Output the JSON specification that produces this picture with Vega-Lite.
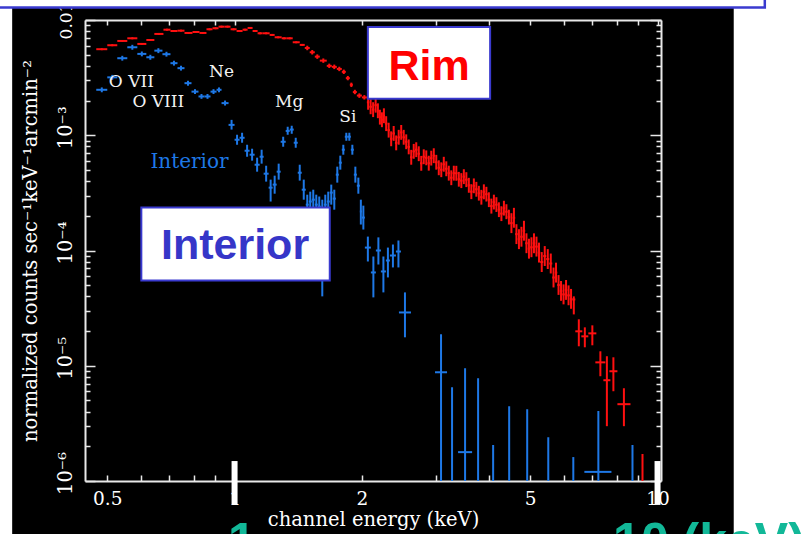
{
  "$schema": "https://vega.github.io/schema/vega-lite/v6.json",
  "width": 576,
  "height": 461,
  "autosize": "none",
  "padding": {"left": 85, "top": 20, "right": 141, "bottom": 53},
  "background": "#000000",
  "config": {"view": {"stroke": null}},
  "datasets": {
    "spectra": [
      {"series": "Rim", "e0": 0.4710, "e": 0.4854, "e1": 0.5001, "f": 5.58e-3, "f0": 5.47e-3, "f1": 5.69e-3},
      {"series": "Rim", "e0": 0.5001, "e": 0.5139, "e1": 0.5281, "f": 6.04e-3, "f0": 5.92e-3, "f1": 6.16e-3},
      {"series": "Rim", "e0": 0.5281, "e": 0.5427, "e1": 0.5577, "f": 6.58e-3, "f0": 6.45e-3, "f1": 6.71e-3},
      {"series": "Rim", "e0": 0.5577, "e": 0.5732, "e1": 0.5890, "f": 6.94e-3, "f0": 6.80e-3, "f1": 7.08e-3},
      {"series": "Rim", "e0": 0.5890, "e": 0.6036, "e1": 0.6186, "f": 6.20e-3, "f0": 6.08e-3, "f1": 6.32e-3},
      {"series": "Rim", "e0": 0.6186, "e": 0.6322, "e1": 0.6462, "f": 6.71e-3, "f0": 6.58e-3, "f1": 6.84e-3},
      {"series": "Rim", "e0": 0.6462, "e": 0.6623, "e1": 0.6790, "f": 7.57e-3, "f0": 7.42e-3, "f1": 7.72e-3},
      {"series": "Rim", "e0": 0.6790, "e": 0.6921, "e1": 0.7054, "f": 8.24e-3, "f0": 8.08e-3, "f1": 8.40e-3},
      {"series": "Rim", "e0": 0.7054, "e": 0.7190, "e1": 0.7329, "f": 8.03e-3, "f0": 7.87e-3, "f1": 8.19e-3},
      {"series": "Rim", "e0": 0.7329, "e": 0.7470, "e1": 0.7614, "f": 8.08e-3, "f0": 7.92e-3, "f1": 8.24e-3},
      {"series": "Rim", "e0": 0.7614, "e": 0.7782, "e1": 0.7953, "f": 7.72e-3, "f0": 7.57e-3, "f1": 7.87e-3},
      {"series": "Rim", "e0": 0.7953, "e": 0.8106, "e1": 0.8262, "f": 7.87e-3, "f0": 7.71e-3, "f1": 8.03e-3},
      {"series": "Rim", "e0": 0.8262, "e": 0.8421, "e1": 0.8582, "f": 7.72e-3, "f0": 7.57e-3, "f1": 7.87e-3},
      {"series": "Rim", "e0": 0.8582, "e": 0.8725, "e1": 0.8869, "f": 8.31e-3, "f0": 8.14e-3, "f1": 8.48e-3},
      {"series": "Rim", "e0": 0.8869, "e": 0.9016, "e1": 0.9164, "f": 8.48e-3, "f0": 8.31e-3, "f1": 8.65e-3},
      {"series": "Rim", "e0": 0.9164, "e": 0.9315, "e1": 0.9469, "f": 8.75e-3, "f0": 8.58e-3, "f1": 8.93e-3},
      {"series": "Rim", "e0": 0.9469, "e": 0.9625, "e1": 0.9784, "f": 8.75e-3, "f0": 8.58e-3, "f1": 8.93e-3},
      {"series": "Rim", "e0": 0.9784, "e": 0.9946, "e1": 1.0110, "f": 8.31e-3, "f0": 8.14e-3, "f1": 8.48e-3},
      {"series": "Rim", "e0": 1.0110, "e": 1.0277, "e1": 1.0446, "f": 8.03e-3, "f0": 7.87e-3, "f1": 8.19e-3},
      {"series": "Rim", "e0": 1.0446, "e": 1.0590, "e1": 1.0735, "f": 8.24e-3, "f0": 8.08e-3, "f1": 8.40e-3},
      {"series": "Rim", "e0": 1.0735, "e": 1.0882, "e1": 1.1031, "f": 8.53e-3, "f0": 8.36e-3, "f1": 8.70e-3},
      {"series": "Rim", "e0": 1.1031, "e": 1.1182, "e1": 1.1336, "f": 8.03e-3, "f0": 7.87e-3, "f1": 8.19e-3},
      {"series": "Rim", "e0": 1.1336, "e": 1.1494, "e1": 1.1652, "f": 7.67e-3, "f0": 7.52e-3, "f1": 7.82e-3},
      {"series": "Rim", "e0": 1.1652, "e": 1.1876, "e1": 1.2104, "f": 7.67e-3, "f0": 7.52e-3, "f1": 7.82e-3},
      {"series": "Rim", "e0": 1.2104, "e": 1.2271, "e1": 1.2439, "f": 7.42e-3, "f0": 7.27e-3, "f1": 7.57e-3},
      {"series": "Rim", "e0": 1.2439, "e": 1.2679, "e1": 1.2923, "f": 7.08e-3, "f0": 6.94e-3, "f1": 7.22e-3},
      {"series": "Rim", "e0": 1.2923, "e": 1.3101, "e1": 1.3281, "f": 6.94e-3, "f0": 6.80e-3, "f1": 7.08e-3},
      {"series": "Rim", "e0": 1.3281, "e": 1.3501, "e1": 1.3724, "f": 6.94e-3, "f0": 6.80e-3, "f1": 7.08e-3},
      {"series": "Rim", "e0": 1.3724, "e": 1.3989, "e1": 1.4259, "f": 6.41e-3, "f0": 6.28e-3, "f1": 6.54e-3},
      {"series": "Rim", "e0": 1.4259, "e": 1.4455, "e1": 1.4654, "f": 6.08e-3, "f0": 5.96e-3, "f1": 6.20e-3},
      {"series": "Rim", "e0": 1.4654, "e": 1.4855, "e1": 1.5056, "f": 5.72e-3, "f0": 5.47e-3, "f1": 5.98e-3},
      {"series": "Rim", "e0": 1.5056, "e": 1.5262, "e1": 1.5476, "f": 5.25e-3, "f0": 5.02e-3, "f1": 5.49e-3},
      {"series": "Rim", "e0": 1.5476, "e": 1.5688, "e1": 1.5904, "f": 4.81e-3, "f0": 4.60e-3, "f1": 5.03e-3},
      {"series": "Rim", "e0": 1.5904, "e": 1.6211, "e1": 1.6518, "f": 4.44e-3, "f0": 4.25e-3, "f1": 4.64e-3},
      {"series": "Rim", "e0": 1.6518, "e": 1.6745, "e1": 1.6976, "f": 4.00e-3, "f0": 3.83e-3, "f1": 4.18e-3},
      {"series": "Rim", "e0": 1.6976, "e": 1.7209, "e1": 1.7446, "f": 3.92e-3, "f0": 3.75e-3, "f1": 4.10e-3},
      {"series": "Rim", "e0": 1.7446, "e": 1.7685, "e1": 1.7928, "f": 3.76e-3, "f0": 3.60e-3, "f1": 3.93e-3},
      {"series": "Rim", "e0": 1.7928, "e": 1.8125, "e1": 1.8324, "f": 3.55e-3, "f0": 3.40e-3, "f1": 3.71e-3},
      {"series": "Rim", "e0": 1.8324, "e": 1.8525, "e1": 1.8728, "f": 3.13e-3, "f0": 3.00e-3, "f1": 3.27e-3},
      {"series": "Rim", "e0": 1.8728, "e": 1.8883, "e1": 1.9038, "f": 2.74e-3, "f0": 2.62e-3, "f1": 2.86e-3},
      {"series": "Rim", "e0": 1.9038, "e": 1.9247, "e1": 1.9458, "f": 2.37e-3, "f0": 2.27e-3, "f1": 2.48e-3},
      {"series": "Rim", "e0": 1.9458, "e": 1.9725, "e1": 1.9996, "f": 2.21e-3, "f0": 2.11e-3, "f1": 2.31e-3},
      {"series": "Rim", "e0": 1.9996, "e": 2.0270, "e1": 2.0549, "f": 2.13e-3, "f0": 2.04e-3, "f1": 2.23e-3},
      {"series": "Rim", "e0": 2.0549, "e": 2.0690, "e1": 2.0831, "f": 1.932e-3, "f0": 1.665e-3, "f1": 2.241e-3},
      {"series": "Rim", "e0": 2.0831, "e": 2.0974, "e1": 2.1117, "f": 1.766e-3, "f0": 1.522e-3, "f1": 2.049e-3},
      {"series": "Rim", "e0": 2.1117, "e": 2.1262, "e1": 2.1407, "f": 1.668e-3, "f0": 1.438e-3, "f1": 1.935e-3},
      {"series": "Rim", "e0": 2.1407, "e": 2.1554, "e1": 2.1701, "f": 1.823e-3, "f0": 1.571e-3, "f1": 2.115e-3},
      {"series": "Rim", "e0": 2.1701, "e": 2.1820, "e1": 2.1939, "f": 1.631e-3, "f0": 1.406e-3, "f1": 1.892e-3},
      {"series": "Rim", "e0": 2.1939, "e": 2.2060, "e1": 2.2180, "f": 1.435e-3, "f0": 1.237e-3, "f1": 1.665e-3},
      {"series": "Rim", "e0": 2.2180, "e": 2.2302, "e1": 2.2423, "f": 1.363e-3, "f0": 1.175e-3, "f1": 1.581e-3},
      {"series": "Rim", "e0": 2.2423, "e": 2.2546, "e1": 2.2669, "f": 1.477e-3, "f0": 1.273e-3, "f1": 1.713e-3},
      {"series": "Rim", "e0": 2.2669, "e": 2.2825, "e1": 2.2980, "f": 1.261e-3, "f0": 1.087e-3, "f1": 1.463e-3},
      {"series": "Rim", "e0": 2.2980, "e": 2.3138, "e1": 2.3296, "f": 1.107e-3, "f0": 9.54e-4, "f1": 1.284e-3},
      {"series": "Rim", "e0": 2.3296, "e": 2.3456, "e1": 2.3616, "f": 9.32e-4, "f0": 8.03e-4, "f1": 1.081e-3},
      {"series": "Rim", "e0": 2.3616, "e": 2.3778, "e1": 2.3940, "f": 1.037e-3, "f0": 8.94e-4, "f1": 1.203e-3},
      {"series": "Rim", "e0": 2.3940, "e": 2.4105, "e1": 2.4269, "f": 8.59e-4, "f0": 7.40e-4, "f1": 9.96e-4},
      {"series": "Rim", "e0": 2.4269, "e": 2.4437, "e1": 2.4604, "f": 9.60e-4, "f0": 8.28e-4, "f1": 1.114e-3},
      {"series": "Rim", "e0": 2.4604, "e": 2.4773, "e1": 2.4941, "f": 1.059e-3, "f0": 9.13e-4, "f1": 1.228e-3},
      {"series": "Rim", "e0": 2.4941, "e": 2.5113, "e1": 2.5284, "f": 9.60e-4, "f0": 8.28e-4, "f1": 1.114e-3},
      {"series": "Rim", "e0": 2.5284, "e": 2.5458, "e1": 2.5631, "f": 8.78e-4, "f0": 7.57e-4, "f1": 1.018e-3},
      {"series": "Rim", "e0": 2.5631, "e": 2.5807, "e1": 2.5983, "f": 7.92e-4, "f0": 6.83e-4, "f1": 9.19e-4},
      {"series": "Rim", "e0": 2.5983, "e": 2.6162, "e1": 2.6340, "f": 6.44e-4, "f0": 5.55e-4, "f1": 7.47e-4},
      {"series": "Rim", "e0": 2.6340, "e": 2.6521, "e1": 2.6702, "f": 7.25e-4, "f0": 6.25e-4, "f1": 8.41e-4},
      {"series": "Rim", "e0": 2.6702, "e": 2.6886, "e1": 2.7069, "f": 7.49e-4, "f0": 6.46e-4, "f1": 8.69e-4},
      {"series": "Rim", "e0": 2.7069, "e": 2.7255, "e1": 2.7440, "f": 6.91e-4, "f0": 5.96e-4, "f1": 8.02e-4},
      {"series": "Rim", "e0": 2.7440, "e": 2.7629, "e1": 2.7817, "f": 5.71e-4, "f0": 4.92e-4, "f1": 6.62e-4},
      {"series": "Rim", "e0": 2.7817, "e": 2.8008, "e1": 2.8199, "f": 6.51e-4, "f0": 5.61e-4, "f1": 7.55e-4},
      {"series": "Rim", "e0": 2.8199, "e": 2.8393, "e1": 2.8586, "f": 6.37e-4, "f0": 5.49e-4, "f1": 7.39e-4},
      {"series": "Rim", "e0": 2.8586, "e": 2.8782, "e1": 2.8978, "f": 5.72e-4, "f0": 4.93e-4, "f1": 6.64e-4},
      {"series": "Rim", "e0": 2.8978, "e": 2.9177, "e1": 2.9376, "f": 6.33e-4, "f0": 5.46e-4, "f1": 7.34e-4},
      {"series": "Rim", "e0": 2.9376, "e": 2.9578, "e1": 2.9779, "f": 6.65e-4, "f0": 5.73e-4, "f1": 7.71e-4},
      {"series": "Rim", "e0": 2.9779, "e": 2.9984, "e1": 3.0188, "f": 5.83e-4, "f0": 5.03e-4, "f1": 6.76e-4},
      {"series": "Rim", "e0": 3.0188, "e": 3.0395, "e1": 3.0602, "f": 5.22e-4, "f0": 4.50e-4, "f1": 6.06e-4},
      {"series": "Rim", "e0": 3.0602, "e": 3.0812, "e1": 3.1022, "f": 5.02e-4, "f0": 4.33e-4, "f1": 5.82e-4},
      {"series": "Rim", "e0": 3.1022, "e": 3.1235, "e1": 3.1448, "f": 5.60e-4, "f0": 4.83e-4, "f1": 6.50e-4},
      {"series": "Rim", "e0": 3.1448, "e": 3.1664, "e1": 3.1880, "f": 5.12e-4, "f0": 4.41e-4, "f1": 5.94e-4},
      {"series": "Rim", "e0": 3.1880, "e": 3.2099, "e1": 3.2318, "f": 4.69e-4, "f0": 4.04e-4, "f1": 5.44e-4},
      {"series": "Rim", "e0": 3.2318, "e": 3.2540, "e1": 3.2762, "f": 4.28e-4, "f0": 3.69e-4, "f1": 4.96e-4},
      {"series": "Rim", "e0": 3.2762, "e": 3.2987, "e1": 3.3212, "f": 4.69e-4, "f0": 4.04e-4, "f1": 5.44e-4},
      {"series": "Rim", "e0": 3.3212, "e": 3.3440, "e1": 3.3668, "f": 4.68e-4, "f0": 4.03e-4, "f1": 5.43e-4},
      {"series": "Rim", "e0": 3.3668, "e": 3.3899, "e1": 3.4130, "f": 4.15e-4, "f0": 3.58e-4, "f1": 4.81e-4},
      {"series": "Rim", "e0": 3.4130, "e": 3.4364, "e1": 3.4598, "f": 4.04e-4, "f0": 3.48e-4, "f1": 4.69e-4},
      {"series": "Rim", "e0": 3.4598, "e": 3.4836, "e1": 3.5073, "f": 4.37e-4, "f0": 3.77e-4, "f1": 5.07e-4},
      {"series": "Rim", "e0": 3.5073, "e": 3.5314, "e1": 3.5555, "f": 4.12e-4, "f0": 3.55e-4, "f1": 4.78e-4},
      {"series": "Rim", "e0": 3.5555, "e": 3.5799, "e1": 3.6043, "f": 3.68e-4, "f0": 3.17e-4, "f1": 4.27e-4},
      {"series": "Rim", "e0": 3.6043, "e": 3.6290, "e1": 3.6538, "f": 3.24e-4, "f0": 2.79e-4, "f1": 3.76e-4},
      {"series": "Rim", "e0": 3.6538, "e": 3.6789, "e1": 3.7039, "f": 3.64e-4, "f0": 3.14e-4, "f1": 4.22e-4},
      {"series": "Rim", "e0": 3.7039, "e": 3.7293, "e1": 3.7548, "f": 3.40e-4, "f0": 2.93e-4, "f1": 3.94e-4},
      {"series": "Rim", "e0": 3.7548, "e": 3.7805, "e1": 3.8063, "f": 3.14e-4, "f0": 2.71e-4, "f1": 3.64e-4},
      {"series": "Rim", "e0": 3.8063, "e": 3.8325, "e1": 3.8586, "f": 2.90e-4, "f0": 2.50e-4, "f1": 3.36e-4},
      {"series": "Rim", "e0": 3.8586, "e": 3.8851, "e1": 3.9116, "f": 3.23e-4, "f0": 2.78e-4, "f1": 3.75e-4},
      {"series": "Rim", "e0": 3.9116, "e": 3.9385, "e1": 3.9653, "f": 3.08e-4, "f0": 2.66e-4, "f1": 3.57e-4},
      {"series": "Rim", "e0": 3.9653, "e": 3.9925, "e1": 4.0197, "f": 2.76e-4, "f0": 2.38e-4, "f1": 3.20e-4},
      {"series": "Rim", "e0": 4.0197, "e": 4.0473, "e1": 4.0749, "f": 2.43e-4, "f0": 2.09e-4, "f1": 2.82e-4},
      {"series": "Rim", "e0": 4.0749, "e": 4.1029, "e1": 4.1309, "f": 2.63e-4, "f0": 2.27e-4, "f1": 3.05e-4},
      {"series": "Rim", "e0": 4.1309, "e": 4.1593, "e1": 4.1876, "f": 2.50e-4, "f0": 2.16e-4, "f1": 2.90e-4},
      {"series": "Rim", "e0": 4.1876, "e": 4.2164, "e1": 4.2451, "f": 2.26e-4, "f0": 1.95e-4, "f1": 2.62e-4},
      {"series": "Rim", "e0": 4.2451, "e": 4.2743, "e1": 4.3034, "f": 2.09e-4, "f0": 1.80e-4, "f1": 2.42e-4},
      {"series": "Rim", "e0": 4.3034, "e": 4.3330, "e1": 4.3625, "f": 2.33e-4, "f0": 2.01e-4, "f1": 2.70e-4},
      {"series": "Rim", "e0": 4.3625, "e": 4.3924, "e1": 4.4223, "f": 2.17e-4, "f0": 1.87e-4, "f1": 2.52e-4},
      {"series": "Rim", "e0": 4.4223, "e": 4.4527, "e1": 4.4831, "f": 1.95e-4, "f0": 1.68e-4, "f1": 2.26e-4},
      {"series": "Rim", "e0": 4.4831, "e": 4.5139, "e1": 4.5446, "f": 1.727e-4, "f0": 1.416e-4, "f1": 2.107e-4},
      {"series": "Rim", "e0": 4.5446, "e": 4.5758, "e1": 4.6070, "f": 1.922e-4, "f0": 1.576e-4, "f1": 2.345e-4},
      {"series": "Rim", "e0": 4.6070, "e": 4.6387, "e1": 4.6703, "f": 1.386e-4, "f0": 1.137e-4, "f1": 1.691e-4},
      {"series": "Rim", "e0": 4.6703, "e": 4.7024, "e1": 4.7344, "f": 1.254e-4, "f0": 1.028e-4, "f1": 1.530e-4},
      {"series": "Rim", "e0": 4.7344, "e": 4.7669, "e1": 4.7994, "f": 1.316e-4, "f0": 1.079e-4, "f1": 1.606e-4},
      {"series": "Rim", "e0": 4.7994, "e": 4.8324, "e1": 4.8653, "f": 1.484e-4, "f0": 1.217e-4, "f1": 1.810e-4},
      {"series": "Rim", "e0": 4.8653, "e": 4.8987, "e1": 4.9321, "f": 1.156e-4, "f0": 9.48e-5, "f1": 1.410e-4},
      {"series": "Rim", "e0": 4.9321, "e": 4.9660, "e1": 4.9998, "f": 1.037e-4, "f0": 8.50e-5, "f1": 1.265e-4},
      {"series": "Rim", "e0": 4.9998, "e": 5.0342, "e1": 5.0685, "f": 1.067e-4, "f0": 8.75e-5, "f1": 1.302e-4},
      {"series": "Rim", "e0": 5.0685, "e": 5.1033, "e1": 5.1381, "f": 1.155e-4, "f0": 9.47e-5, "f1": 1.409e-4},
      {"series": "Rim", "e0": 5.1381, "e": 5.1734, "e1": 5.2086, "f": 1.081e-4, "f0": 8.86e-5, "f1": 1.319e-4},
      {"series": "Rim", "e0": 5.2086, "e": 5.2444, "e1": 5.2801, "f": 9.59e-5, "f0": 7.86e-5, "f1": 1.170e-4},
      {"series": "Rim", "e0": 5.2801, "e": 5.3238, "e1": 5.3674, "f": 7.94e-5, "f0": 6.51e-5, "f1": 9.69e-5},
      {"series": "Rim", "e0": 5.3674, "e": 5.4117, "e1": 5.4560, "f": 8.95e-5, "f0": 7.34e-5, "f1": 1.092e-4},
      {"series": "Rim", "e0": 5.4560, "e": 5.5011, "e1": 5.5461, "f": 8.43e-5, "f0": 6.91e-5, "f1": 1.028e-4},
      {"series": "Rim", "e0": 5.5461, "e": 5.5919, "e1": 5.6376, "f": 7.71e-5, "f0": 6.32e-5, "f1": 9.41e-5},
      {"series": "Rim", "e0": 5.6376, "e": 5.6765, "e1": 5.7153, "f": 5.83e-5, "f0": 4.78e-5, "f1": 7.11e-5},
      {"series": "Rim", "e0": 5.7153, "e": 5.7545, "e1": 5.7936, "f": 6.43e-5, "f0": 5.27e-5, "f1": 7.84e-5},
      {"series": "Rim", "e0": 5.7936, "e": 5.8334, "e1": 5.8732, "f": 5.02e-5, "f0": 4.12e-5, "f1": 6.12e-5},
      {"series": "Rim", "e0": 5.8732, "e": 5.9135, "e1": 5.9538, "f": 4.46e-5, "f0": 3.66e-5, "f1": 5.44e-5},
      {"series": "Rim", "e0": 5.9538, "e": 5.9947, "e1": 6.0355, "f": 4.16e-5, "f0": 3.41e-5, "f1": 5.08e-5},
      {"series": "Rim", "e0": 6.0355, "e": 6.0769, "e1": 6.1183, "f": 4.55e-5, "f0": 3.73e-5, "f1": 5.55e-5},
      {"series": "Rim", "e0": 6.1183, "e": 6.1603, "e1": 6.2023, "f": 4.08e-5, "f0": 3.35e-5, "f1": 4.98e-5},
      {"series": "Rim", "e0": 6.2023, "e": 6.2449, "e1": 6.2874, "f": 3.80e-5, "f0": 3.12e-5, "f1": 4.64e-5},
      {"series": "Rim", "e0": 6.2874, "e": 6.3390, "e1": 6.3911, "f": 3.76e-5, "f0": 2.79e-5, "f1": 4.00e-5},
      {"series": "Rim", "e0": 6.3911, "e": 6.5145, "e1": 6.6400, "f": 1.99e-5, "f0": 1.475e-5, "f1": 2.53e-5},
      {"series": "Rim", "e0": 6.6040, "e": 6.7310, "e1": 6.8607, "f": 1.80e-5, "f0": 1.446e-5, "f1": 2.154e-5},
      {"series": "Rim", "e0": 6.8607, "e": 7.0121, "e1": 7.1669, "f": 1.91e-5, "f0": 1.505e-5, "f1": 2.242e-5},
      {"series": "Rim", "e0": 7.1279, "e": 7.3253, "e1": 7.5279, "f": 1.07e-5, "f0": 8.11e-6, "f1": 1.335e-5},
      {"series": "Rim", "e0": 7.4463, "e": 7.5896, "e1": 7.7359, "f": 7.49e-6, "f0": 2.99e-6, "f1": 1.209e-5},
      {"series": "Rim", "e0": 7.6939, "e": 7.8636, "e1": 8.0371, "f": 8.96e-6, "f0": 6.01e-6, "f1": 1.184e-5},
      {"series": "Rim", "e0": 8.0371, "e": 8.3270, "e1": 8.6300, "f": 4.64e-6, "f0": 2.99e-6, "f1": 6.38e-6},
      {"series": "Rim", "e0": null, "e": 9.2138, "e1": null, "f": null, "f0": 1e-8, "f1": 1.713e-6},
      {"series": "Interior", "e0": 0.4710, "e": 0.4854, "e1": 0.5001, "f": 2.48e-3, "f0": 2.36e-3, "f1": 2.60e-3},
      {"series": "Interior", "e0": 0.5001, "e": 0.5139, "e1": 0.5281, "f": 3.18e-3, "f0": 3.03e-3, "f1": 3.34e-3},
      {"series": "Interior", "e0": 0.5281, "e": 0.5427, "e1": 0.5577, "f": 4.66e-3, "f0": 4.44e-3, "f1": 4.89e-3},
      {"series": "Interior", "e0": 0.5577, "e": 0.5732, "e1": 0.5890, "f": 5.80e-3, "f0": 5.52e-3, "f1": 6.09e-3},
      {"series": "Interior", "e0": 0.5890, "e": 0.6036, "e1": 0.6186, "f": 5.08e-3, "f0": 4.84e-3, "f1": 5.33e-3},
      {"series": "Interior", "e0": 0.6186, "e": 0.6322, "e1": 0.6462, "f": 4.75e-3, "f0": 4.52e-3, "f1": 4.99e-3},
      {"series": "Interior", "e0": 0.6462, "e": 0.6605, "e1": 0.6753, "f": 5.42e-3, "f0": 5.16e-3, "f1": 5.69e-3},
      {"series": "Interior", "e0": 0.6753, "e": 0.6902, "e1": 0.7054, "f": 5.05e-3, "f0": 4.81e-3, "f1": 5.30e-3},
      {"series": "Interior", "e0": 0.7054, "e": 0.7190, "e1": 0.7329, "f": 4.22e-3, "f0": 4.02e-3, "f1": 4.43e-3},
      {"series": "Interior", "e0": 0.7329, "e": 0.7470, "e1": 0.7614, "f": 3.82e-3, "f0": 3.64e-3, "f1": 4.01e-3},
      {"series": "Interior", "e0": 0.7614, "e": 0.7761, "e1": 0.7910, "f": 2.83e-3, "f0": 2.69e-3, "f1": 2.97e-3},
      {"series": "Interior", "e0": 0.7910, "e": 0.8062, "e1": 0.8217, "f": 2.39e-3, "f0": 2.28e-3, "f1": 2.51e-3},
      {"series": "Interior", "e0": 0.8217, "e": 0.8352, "e1": 0.8489, "f": 2.17e-3, "f0": 2.07e-3, "f1": 2.28e-3},
      {"series": "Interior", "e0": 0.8489, "e": 0.8630, "e1": 0.8773, "f": 2.17e-3, "f0": 2.07e-3, "f1": 2.28e-3},
      {"series": "Interior", "e0": 0.8773, "e": 0.8917, "e1": 0.9066, "f": 2.39e-3, "f0": 2.28e-3, "f1": 2.51e-3},
      {"series": "Interior", "e0": 0.9066, "e": 0.9189, "e1": 0.9315, "f": 2.48e-3, "f0": 2.36e-3, "f1": 2.60e-3},
      {"series": "Interior", "e0": 0.9315, "e": 0.9495, "e1": 0.9678, "f": 1.90e-3, "f0": 1.81e-3, "f1": 2.00e-3},
      {"series": "Interior", "e0": 0.9678, "e": 0.9838, "e1": 1.0000, "f": 1.23e-3, "f0": 1.12e-3, "f1": 1.36e-3},
      {"series": "Interior", "e0": 1.0000, "e": 1.0137, "e1": 1.0277, "f": 9.14e-4, "f0": 8.27e-4, "f1": 1.01e-3},
      {"series": "Interior", "e0": 1.0277, "e": 1.0418, "e1": 1.0561, "f": 9.51e-4, "f0": 8.61e-4, "f1": 1.051e-3},
      {"series": "Interior", "e0": 1.0561, "e": 1.0706, "e1": 1.0853, "f": 7.34e-4, "f0": 6.51e-4, "f1": 8.27e-4},
      {"series": "Interior", "e0": 1.0853, "e": 1.1002, "e1": 1.1153, "f": 6.78e-4, "f0": 6.02e-4, "f1": 7.64e-4},
      {"series": "Interior", "e0": 1.1153, "e": 1.1306, "e1": 1.1462, "f": 5.55e-4, "f0": 4.83e-4, "f1": 6.39e-4},
      {"series": "Interior", "e0": 1.1462, "e": 1.1588, "e1": 1.1715, "f": 6.51e-4, "f0": 5.67e-4, "f1": 7.49e-4},
      {"series": "Interior", "e0": 1.1715, "e": 1.1876, "e1": 1.2038, "f": 4.64e-4, "f0": 3.96e-4, "f1": 5.44e-4},
      {"series": "Interior", "e0": 1.2038, "e": 1.2170, "e1": 1.2304, "f": 3.51e-4, "f0": 2.66e-4, "f1": 4.12e-4},
      {"series": "Interior", "e0": 1.2304, "e": 1.2439, "e1": 1.2576, "f": 3.73e-4, "f0": 3.11e-4, "f1": 4.46e-4},
      {"series": "Interior", "e0": 1.2576, "e": 1.2714, "e1": 1.2853, "f": 4.83e-4, "f0": 4.12e-4, "f1": 5.67e-4},
      {"series": "Interior", "e0": 1.2853, "e": 1.3030, "e1": 1.3210, "f": 8.78e-4, "f0": 7.95e-4, "f1": 9.71e-4},
      {"series": "Interior", "e0": 1.3210, "e": 1.3354, "e1": 1.3501, "f": 1.09e-3, "f0": 1.01e-3, "f1": 1.185e-3},
      {"series": "Interior", "e0": 1.3501, "e": 1.3650, "e1": 1.3800, "f": 1.12e-3, "f0": 1.03e-3, "f1": 1.209e-3},
      {"series": "Interior", "e0": 1.3800, "e": 1.3951, "e1": 1.4105, "f": 8.61e-4, "f0": 7.79e-4, "f1": 9.51e-4},
      {"series": "Interior", "e0": 1.4105, "e": 1.4259, "e1": 1.4415, "f": 4.73e-4, "f0": 4.04e-4, "f1": 5.55e-4},
      {"series": "Interior", "e0": 1.4415, "e": 1.4574, "e1": 1.4734, "f": 3.37e-4, "f0": 2.76e-4, "f1": 4.12e-4},
      {"series": "Interior", "e0": 1.4734, "e": 1.4855, "e1": 1.4977, "f": 2.50e-4, "f0": 2.13e-4, "f1": 3.05e-4},
      {"series": "Interior", "e0": 1.4977, "e": 1.5099, "e1": 1.5222, "f": 2.66e-4, "f0": 2.18e-4, "f1": 3.24e-4},
      {"series": "Interior", "e0": 1.5222, "e": 1.5347, "e1": 1.5476, "f": 2.76e-4, "f0": 2.26e-4, "f1": 3.37e-4},
      {"series": "Interior", "e0": 1.5476, "e": 1.5601, "e1": 1.5729, "f": 2.50e-4, "f0": 2.05e-4, "f1": 3.05e-4},
      {"series": "Interior", "e0": 1.5729, "e": 1.5858, "e1": 1.5989, "f": 2.40e-4, "f0": 1.97e-4, "f1": 2.94e-4},
      {"series": "Interior", "e0": 1.5989, "e": 1.6120, "e1": 1.6252, "f": 2.05e-4, "f0": 4.00e-5, "f1": 2.76e-4},
      {"series": "Interior", "e0": 1.6252, "e": 1.6386, "e1": 1.6518, "f": 2.50e-4, "f0": 2.05e-4, "f1": 3.05e-4},
      {"series": "Interior", "e0": 1.6518, "e": 1.6653, "e1": 1.6790, "f": 2.66e-4, "f0": 2.18e-4, "f1": 3.24e-4},
      {"series": "Interior", "e0": 1.6790, "e": 1.6928, "e1": 1.7067, "f": 3.18e-4, "f0": 2.50e-4, "f1": 3.73e-4},
      {"series": "Interior", "e0": 1.7067, "e": 1.7209, "e1": 1.7351, "f": 2.82e-4, "f0": 2.26e-4, "f1": 3.37e-4},
      {"series": "Interior", "e0": 1.7351, "e": 1.7493, "e1": 1.7637, "f": 4.55e-4, "f0": 3.88e-4, "f1": 5.34e-4},
      {"series": "Interior", "e0": 1.7637, "e": 1.7783, "e1": 1.7928, "f": 5.78e-4, "f0": 5.03e-4, "f1": 6.65e-4},
      {"series": "Interior", "e0": 1.7928, "e": 1.8076, "e1": 1.8224, "f": 7.49e-4, "f0": 6.78e-4, "f1": 8.27e-4},
      {"series": "Interior", "e0": 1.8224, "e": 1.8374, "e1": 1.8525, "f": 9.71e-4, "f0": 8.96e-4, "f1": 1.051e-3},
      {"series": "Interior", "e0": 1.8525, "e": 1.8678, "e1": 1.8831, "f": 9.71e-4, "f0": 8.96e-4, "f1": 1.051e-3},
      {"series": "Interior", "e0": 1.8831, "e": 1.8986, "e1": 1.9142, "f": 7.49e-4, "f0": 6.78e-4, "f1": 8.27e-4},
      {"series": "Interior", "e0": 1.9142, "e": 1.9300, "e1": 1.9458, "f": 4.55e-4, "f0": 3.88e-4, "f1": 5.34e-4},
      {"series": "Interior", "e0": 1.9458, "e": 1.9618, "e1": 1.9779, "f": 3.65e-4, "f0": 3.11e-4, "f1": 4.29e-4},
      {"series": "Interior", "e0": 1.9779, "e": 1.9887, "e1": 1.9996, "f": 2.18e-4, "f0": 1.68e-4, "f1": 2.76e-4},
      {"series": "Interior", "e0": 1.9996, "e": 2.0160, "e1": 2.0326, "f": 1.93e-4, "f0": 1.52e-4, "f1": 2.45e-4},
      {"series": "Interior", "e0": 2.0326, "e": 2.0661, "e1": 2.1002, "f": 1.06e-4, "f0": 8.03e-5, "f1": 1.32e-4},
      {"series": "Interior", "e0": 2.1002, "e": 2.1290, "e1": 2.1583, "f": 6.45e-5, "f0": 3.92e-5, "f1": 8.87e-5},
      {"series": "Interior", "e0": 2.1583, "e": 2.1879, "e1": 2.2180, "f": 1.00e-4, "f0": 7.56e-5, "f1": 1.30e-4},
      {"series": "Interior", "e0": 2.2180, "e": 2.2484, "e1": 2.2793, "f": 6.58e-5, "f0": 4.33e-5, "f1": 8.87e-5},
      {"series": "Interior", "e0": 2.2793, "e": 2.3043, "e1": 2.3296, "f": 8.19e-5, "f0": 5.84e-5, "f1": 1.06e-4},
      {"series": "Interior", "e0": 2.3296, "e": 2.3681, "e1": 2.4071, "f": 9.05e-5, "f0": 7.13e-5, "f1": 1.127e-4},
      {"series": "Interior", "e0": 2.4071, "e": 2.4402, "e1": 2.4737, "f": 9.80e-5, "f0": 7.13e-5, "f1": 1.221e-4},
      {"series": "Interior", "e0": 2.4469, "e": 2.5284, "e1": 2.6125, "f": 2.90e-5, "f0": 1.765e-5, "f1": 4.33e-5},
      {"series": "Interior", "e0": 2.9779, "e": 3.0770, "e1": 3.1793, "f": 8.78e-6, "f0": 1e-8, "f1": 1.874e-5},
      {"series": "Interior", "e0": null, "e": 3.2673, "e1": null, "f": null, "f0": 1e-8, "f1": 6.51e-6},
      {"series": "Interior", "e0": 3.3760, "e": 3.5073, "e1": 3.6438, "f": 1.78e-6, "f0": 1e-8, "f1": 9.51e-6},
      {"series": "Interior", "e0": null, "e": 3.7651, "e1": null, "f": null, "f0": 1e-8, "f1": 7.79e-6},
      {"series": "Interior", "e0": null, "e": 4.0861, "e1": null, "f": null, "f0": 1e-8, "f1": 2.05e-6},
      {"series": "Interior", "e0": null, "e": 4.4587, "e1": null, "f": null, "f0": 1e-8, "f1": 4.46e-6},
      {"series": "Interior", "e0": null, "e": 4.9186, "e1": null, "f": null, "f0": 1e-8, "f1": 4.20e-6},
      {"series": "Interior", "e0": null, "e": 5.5167, "e1": null, "f": null, "f0": 1e-8, "f1": 2.40e-6},
      {"series": "Interior", "e0": null, "e": 6.3218, "e1": null, "f": null, "f0": 1e-8, "f1": 1.613e-6},
      {"series": "Interior", "e0": 6.7141, "e": 7.2458, "e1": 7.7803, "f": 1.20e-6, "f0": 1e-8, "f1": 4.04e-6},
      {"series": "Interior", "e0": null, "e": 8.7247, "e1": null, "f": null, "f0": 1e-8, "f1": 2.05e-6}
    ],
    "lines": [
      {"ion": "O VII", "keV": 0.5701, "flux": 2.63e-3},
      {"ion": "O VIII", "keV": 0.6605, "flux": 1.765e-3},
      {"ion": "Ne", "keV": 0.9315, "flux": 3.21e-3},
      {"ion": "Mg", "keV": 1.3465, "flux": 1.765e-3},
      {"ion": "Si", "keV": 1.8525, "flux": 1.309e-3}
    ],
    "bars": [{"keV": 1}, {"keV": 10}],
    "footer": [
      {"t": "1", "keV": 0.965},
      {"t": "10 (keV)", "keV": 7.85}
    ]
  },
  "layer": [
    {
      "description": "white slide margins left and right of the black plot panel",
      "data": {"values": [{"a": 0.2, "b": 0.298}, {"a": 15.14, "b": 60}]},
      "mark": {"type": "rect", "fill": "#ffffff"},
      "encoding": {
        "x": {"field": "a", "type": "quantitative", "scale": {"type": "log", "domain": [0.443, 10.19]}, "axis": null},
        "x2": {"field": "b"},
        "y": {"datum": 0.05, "type": "quantitative", "scale": {"type": "log", "domain": [1e-6, 1e-2]}, "axis": null},
        "y2": {"datum": 1e-7}
      }
    },
    {
      "description": "title box strip along the top edge",
      "data": {"values": [{}]},
      "mark": {"type": "rect", "fill": "#ffffff", "stroke": "#3a3acf", "strokeWidth": 2.5},
      "encoding": {
        "x": {"datum": 0.2, "type": "quantitative", "scale": {"type": "log", "domain": [0.443, 10.19]}, "axis": null},
        "x2": {"datum": 17.93},
        "y": {"datum": 0.05, "type": "quantitative", "scale": {"type": "log", "domain": [1e-6, 1e-2]}, "axis": null},
        "y2": {"datum": 0.01283}
      }
    },
    {
      "description": "energy-bin widths (horizontal bars)",
      "data": {"name": "spectra"},
      "mark": {"type": "rule", "clip": true, "strokeWidth": 2},
      "encoding": {
        "x": {
          "field": "e0", "type": "quantitative",
          "scale": {"type": "log", "domain": [0.443, 10.19]},
          "axis": {
            "orient": "bottom", "zindex": 0, "grid": false,
            "values": [0.5, 0.6, 0.7, 0.8, 0.9, 1, 2, 3, 4, 5, 6, 7, 8, 9, 10],
            "labelExpr": "datum.value == 0.5 || datum.value == 1 || datum.value == 2 || datum.value == 5 || datum.value == 10 ? '' + datum.value : ''",
            "domainColor": "#e8e8e8", "domainWidth": 2,
            "tickColor": "#e8e8e8", "tickWidth": 1.5, "tickSize": -6,
            "labelColor": "#ffffff", "labelFont": "DejaVu Serif", "labelFontSize": 18.5,
            "labelPadding": 14, "labelFlush": false, "labelOverlap": false,
            "title": "channel energy (keV)", "titleColor": "#ffffff", "titleFont": "DejaVu Serif",
            "titleFontSize": 19.5, "titleFontWeight": "normal", "titlePadding": 3
          }
        },
        "x2": {"field": "e1"},
        "y": {
          "field": "f", "type": "quantitative",
          "scale": {"type": "log", "domain": [1e-6, 1e-2]},
          "axis": {
            "orient": "left", "zindex": 0, "grid": false,
            "values": [1e-6, 2e-6, 3e-6, 4e-6, 5e-6, 6e-6, 7e-6, 8e-6, 9e-6, 1e-5, 2e-5, 3e-5, 4e-5, 5e-5, 6e-5, 7e-5, 8e-5, 9e-5, 1e-4, 2e-4, 3e-4, 4e-4, 5e-4, 6e-4, 7e-4, 8e-4, 9e-4, 1e-3, 2e-3, 3e-3, 4e-3, 5e-3, 6e-3, 7e-3, 8e-3, 9e-3, 1e-2],
            "labelExpr": "datum.value == 1e-2 ? '0.01' : datum.value == 1e-3 ? '10⁻³' : datum.value == 1e-4 ? '10⁻⁴' : datum.value == 1e-5 ? '10⁻⁵' : datum.value == 1e-6 ? '10⁻⁶' : ''",
            "labelAngle": -90, "labelAlign": "center", "labelBaseline": "bottom",
            "labelOffset": {"condition": {"test": "datum.value == 1e-2", "value": 0}, "value": -8},
            "domainColor": "#e8e8e8", "domainWidth": 2,
            "tickColor": "#e8e8e8", "tickWidth": 1.5,
            "tickSize": {"condition": {"test": "datum.value == 1e-6 || datum.value == 1e-5 || datum.value == 1e-4 || datum.value == 1e-3 || datum.value == 1e-2", "value": -10}, "value": -5},
            "labelColor": "#ffffff", "labelFont": "DejaVu Serif",
            "labelFontSize": {"condition": {"test": "datum.value == 1e-2", "value": 17}, "value": 19.5},
            "labelPadding": 20, "labelOverlap": false,
            "title": "normalized counts sec⁻¹keV⁻¹arcmin⁻²", "titleColor": "#ffffff", "titleFont": "DejaVu Serif",
            "titleFontSize": 19.5, "titleFontWeight": "normal", "titlePadding": 10
          }
        },
        "color": {"field": "series", "type": "nominal", "scale": {"domain": ["Rim", "Interior"], "range": ["#ff1010", "#1e78e6"]}, "legend": null}
      }
    },
    {
      "description": "flux error bars (vertical bars)",
      "data": {"name": "spectra"},
      "mark": {"type": "rule", "clip": true, "strokeWidth": 2},
      "encoding": {
        "x": {
          "field": "e", "type": "quantitative",
          "scale": {"type": "log", "domain": [0.443, 10.19]},
          "axis": {
            "orient": "top", "zindex": 0, "grid": false, "labels": false, "title": null,
            "values": [0.5, 0.6, 0.7, 0.8, 0.9, 1, 2, 3, 4, 5, 6, 7, 8, 9, 10],
            "domainColor": "#e8e8e8", "domainWidth": 2,
            "tickColor": "#e8e8e8", "tickWidth": 1.5, "tickSize": -5
          }
        },
        "y": {
          "field": "f0", "type": "quantitative",
          "scale": {"type": "log", "domain": [1e-6, 1e-2]},
          "axis": {
            "orient": "right", "zindex": 0, "grid": false, "labels": false, "title": null,
            "values": [1e-6, 2e-6, 3e-6, 4e-6, 5e-6, 6e-6, 7e-6, 8e-6, 9e-6, 1e-5, 2e-5, 3e-5, 4e-5, 5e-5, 6e-5, 7e-5, 8e-5, 9e-5, 1e-4, 2e-4, 3e-4, 4e-4, 5e-4, 6e-4, 7e-4, 8e-4, 9e-4, 1e-3, 2e-3, 3e-3, 4e-3, 5e-3, 6e-3, 7e-3, 8e-3, 9e-3, 1e-2],
            "domainColor": "#e8e8e8", "domainWidth": 2,
            "tickColor": "#e8e8e8", "tickWidth": 1.5,
            "tickSize": {"condition": {"test": "datum.value == 1e-6 || datum.value == 1e-5 || datum.value == 1e-4 || datum.value == 1e-3 || datum.value == 1e-2", "value": -11}, "value": -5}
          }
        },
        "y2": {"field": "f1"},
        "color": {"field": "series", "type": "nominal", "scale": {"domain": ["Rim", "Interior"], "range": ["#ff1010", "#1e78e6"]}, "legend": null}
      }
    },
    {
      "description": "emission line identifications",
      "data": {"name": "lines"},
      "mark": {"type": "text", "color": "#f2f2f2", "font": "DejaVu Serif", "fontSize": 17, "align": "center", "baseline": "alphabetic"},
      "encoding": {
        "x": {"field": "keV", "type": "quantitative", "scale": {"type": "log", "domain": [0.443, 10.19]}, "axis": null},
        "y": {"field": "flux", "type": "quantitative", "scale": {"type": "log", "domain": [1e-6, 1e-2]}, "axis": null},
        "text": {"field": "ion"}
      }
    },
    {
      "description": "in-plot series label",
      "data": {"values": [{}]},
      "mark": {"type": "text", "color": "#1e78e6", "font": "DejaVu Serif", "fontSize": 20, "align": "center", "baseline": "alphabetic", "text": "Interior"},
      "encoding": {
        "x": {"datum": 0.7824, "type": "quantitative", "scale": {"type": "log", "domain": [0.443, 10.19]}, "axis": null},
        "y": {"datum": 5.23e-4, "type": "quantitative", "scale": {"type": "log", "domain": [1e-6, 1e-2]}, "axis": null}
      }
    },
    {
      "description": "Rim callout box",
      "data": {"values": [{}]},
      "mark": {"type": "rect", "fill": "#ffffff", "stroke": "#3a3acf", "strokeWidth": 2},
      "encoding": {
        "x": {"datum": 2.0661, "type": "quantitative", "scale": {"type": "log", "domain": [0.443, 10.19]}, "axis": null},
        "x2": {"datum": 4.0197},
        "y": {"datum": 8.70e-3, "type": "quantitative", "scale": {"type": "log", "domain": [1e-6, 1e-2]}, "axis": null},
        "y2": {"datum": 2.07e-3}
      }
    },
    {
      "data": {"values": [{}]},
      "mark": {"type": "text", "color": "#ff0000", "font": "Liberation Sans", "fontWeight": "bold", "fontSize": 43, "align": "center", "baseline": "alphabetic", "text": "Rim"},
      "encoding": {
        "x": {"datum": 2.882, "type": "quantitative", "scale": {"type": "log", "domain": [0.443, 10.19]}, "axis": null},
        "y": {"datum": 3.02e-3, "type": "quantitative", "scale": {"type": "log", "domain": [1e-6, 1e-2]}, "axis": null}
      }
    },
    {
      "description": "Interior callout box",
      "data": {"values": [{}]},
      "mark": {"type": "rect", "fill": "#ffffff", "stroke": "#3a3acf", "strokeWidth": 2},
      "encoding": {
        "x": {"datum": 0.602, "type": "quantitative", "scale": {"type": "log", "domain": [0.443, 10.19]}, "axis": null},
        "x2": {"datum": 1.679},
        "y": {"datum": 2.357e-4, "type": "quantitative", "scale": {"type": "log", "domain": [1e-6, 1e-2]}, "axis": null},
        "y2": {"datum": 5.50e-5}
      }
    },
    {
      "data": {"values": [{}]},
      "mark": {"type": "text", "color": "#3636c8", "font": "Liberation Sans", "fontWeight": "bold", "fontSize": 43, "align": "center", "baseline": "alphabetic", "text": "Interior"},
      "encoding": {
        "x": {"datum": 1.0027, "type": "quantitative", "scale": {"type": "log", "domain": [0.443, 10.19]}, "axis": null},
        "y": {"datum": 8.36e-5, "type": "quantitative", "scale": {"type": "log", "domain": [1e-6, 1e-2]}, "axis": null}
      }
    },
    {
      "description": "highlight bars at 1 and 10 keV",
      "data": {"name": "bars"},
      "mark": {"type": "rule", "color": "#ffffff", "strokeWidth": 6},
      "encoding": {
        "x": {"field": "keV", "type": "quantitative", "scale": {"type": "log", "domain": [0.443, 10.19]}, "axis": null},
        "y": {"datum": 1.49e-6, "type": "quantitative", "scale": {"type": "log", "domain": [1e-6, 1e-2]}, "axis": null},
        "y2": {"datum": 6.2e-7}
      }
    },
    {
      "description": "slide energy scale underneath the plot",
      "data": {"name": "footer"},
      "mark": {"type": "text", "color": "#12b898", "font": "Liberation Sans", "fontWeight": "bold", "fontSize": 50, "align": "left", "baseline": "alphabetic"},
      "encoding": {
        "x": {"field": "keV", "type": "quantitative", "scale": {"type": "log", "domain": [0.443, 10.19]}, "axis": null},
        "y": {"datum": 2.15e-7, "type": "quantitative", "scale": {"type": "log", "domain": [1e-6, 1e-2]}, "axis": null},
        "text": {"field": "t"}
      }
    }
  ]
}
